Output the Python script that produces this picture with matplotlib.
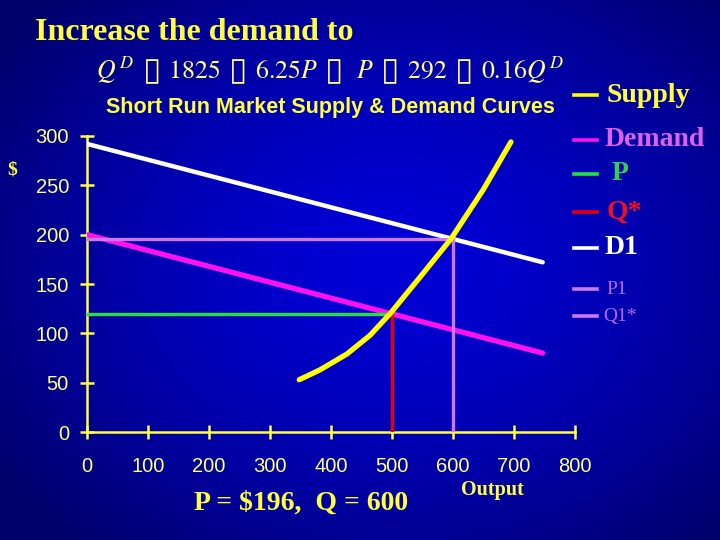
import numpy as np
import matplotlib.pyplot as plt
from matplotlib.lines import Line2D

plt.rcParams['mathtext.fontset'] = 'stix'

# ---- data ----
quantity_ticks = [0, 100, 200, 300, 400, 500, 600, 700, 800]
price_ticks = [0, 50, 100, 150, 200, 250, 300]

supply_q = [348, 382, 426, 464, 497, 546, 597, 650, 695]
supply_p = [53, 63, 79, 98, 120, 157, 196, 246, 294]

demand_q = [0, 747]
demand_p = [200, 80]

d1_q = [0, 747]
d1_p = [292, 172]

p_star, q_star = 120, 500
p1_star, q1_star = 196, 600

legend_labels = ["Supply", "Demand", "P", "Q*", "D1", "P1", "Q1*"]

YELLOW = "#ffff40"
PALE = "#ffff80"

fig = plt.figure(figsize=(7.2, 5.4), dpi=100)

# blue radial background
bg = fig.add_axes([0, 0, 1, 1], zorder=-10)
yy, xx = np.mgrid[0:540, 0:720]
d = np.sqrt(((xx - 390) / 480.0) ** 2 + ((yy - 260) / 380.0) ** 2)
d = np.clip(d, 0, 1)
img = np.zeros((540, 720, 3))
img[..., 2] = (215 - 110 * d ** 1.5) / 255.0
bg.imshow(img, aspect="auto")
bg.axis("off")

ax = fig.add_axes([87 / 720, 108 / 540, 488 / 720, 296 / 540])
ax.set_facecolor("none")
ax.set_xlim(0, 800)
ax.set_ylim(0, 300)

for s in ["top", "right"]:
    ax.spines[s].set_visible(False)
for s in ["left", "bottom"]:
    ax.spines[s].set_color(YELLOW)
    ax.spines[s].set_linewidth(1.8)

ax.set_xticks(quantity_ticks)
ax.set_yticks(price_ticks)
ax.tick_params(axis="both", direction="inout", length=10, width=1.8,
               color=YELLOW, labelcolor=PALE, labelsize=14.5)
ax.tick_params(axis="x", pad=13)
ax.tick_params(axis="y", pad=8)
for lab in ax.get_xticklabels() + ax.get_yticklabels():
    lab.set_family("Liberation Sans")

# curves
ax.plot(d1_q, d1_p, color="white", lw=3.2, solid_capstyle="round", zorder=3)
ax.plot(demand_q, demand_p, color="#ff10ee", lw=3.8, solid_capstyle="round", zorder=3)
ax.plot([0, q_star], [p_star, p_star], color="#22e040", lw=2.4, zorder=4)
ax.plot([q_star, q_star], [0, p_star], color="#e00010", lw=2.4, zorder=4)
ax.plot([0, q1_star], [p1_star, p1_star], color="#cc77ee", lw=2.4, zorder=4)
ax.plot([q1_star, q1_star], [0, p1_star], color="#cc77ee", lw=2.4, zorder=4)
ax.plot(supply_q, supply_p, color="#ffff00", lw=3.8, solid_capstyle="round",
        solid_joinstyle="round", zorder=5)

# texts
fig.text(35 / 720, 1 - 32 / 540, "Increase the demand to", color=YELLOW,
         family="Liberation Serif", weight="bold", fontsize=23,
         ha="left", va="center")
box = "\u25af"
formula = (r"$Q^{\,D}\;\;" + box + r"\;\;\mathrm{1825}\;\;" + box +
           r"\;\;\mathrm{6.25}P\;\;" + box + r"\;\;\;P\;\;" + box +
           r"\;\;\mathrm{292}\;\;" + box + r"\;\;\mathrm{0.16}Q^{\,D}$")
fig.text(96 / 720, 1 - 70 / 540, formula, color=PALE, fontsize=18.5,
         ha="left", va="center")
fig.text(330 / 720, 1 - 107 / 540, "Short Run Market Supply & Demand Curves",
         color=YELLOW, family="Liberation Sans", weight="bold", fontsize=15.5,
         ha="center", va="center")
fig.text(12 / 720, 1 - 170 / 540, "$", color=YELLOW, family="Liberation Serif",
         weight="bold", fontsize=14, ha="center", va="center")
fig.text(301 / 720, 1 - 503 / 540, "P = $196,  Q = 600", color=YELLOW,
         family="Liberation Serif", weight="bold", fontsize=20,
         ha="center", va="center")
fig.text(492 / 720, 1 - 490 / 540, "Output", color=YELLOW,
         family="Liberation Serif", weight="bold", fontsize=14.5,
         ha="center", va="center")

# hand-made legend on the right
leg_y = [95, 140, 174, 212, 248, 289, 316]
leg_line = ["#ffff00", "#ff10ee", "#22e040", "#e00010", "white", "#cc77ee", "#cc77ee"]
leg_text = [YELLOW, "#e060ee", "#33cc55", "#ee1122", "white", "#bb66ee", "#bb66ee"]
leg_size = [20, 20, 20, 20, 20, 14, 14]
leg_x = [606, 605, 612, 607, 605, 606, 603]
for lab, y, lc, tc, fs, tx in zip(legend_labels, leg_y, leg_line, leg_text, leg_size, leg_x):
    fig.add_artist(Line2D([574 / 720, 597 / 720], [1 - y / 540, 1 - y / 540],
                          color=lc, lw=2.6))
    fig.text(tx / 720, 1 - y / 540, lab, color=tc, family="Liberation Serif",
             weight="bold" if fs > 15 else "normal", fontsize=fs,
             ha="left", va="center")

fig.savefig("out.png", dpi=100)
